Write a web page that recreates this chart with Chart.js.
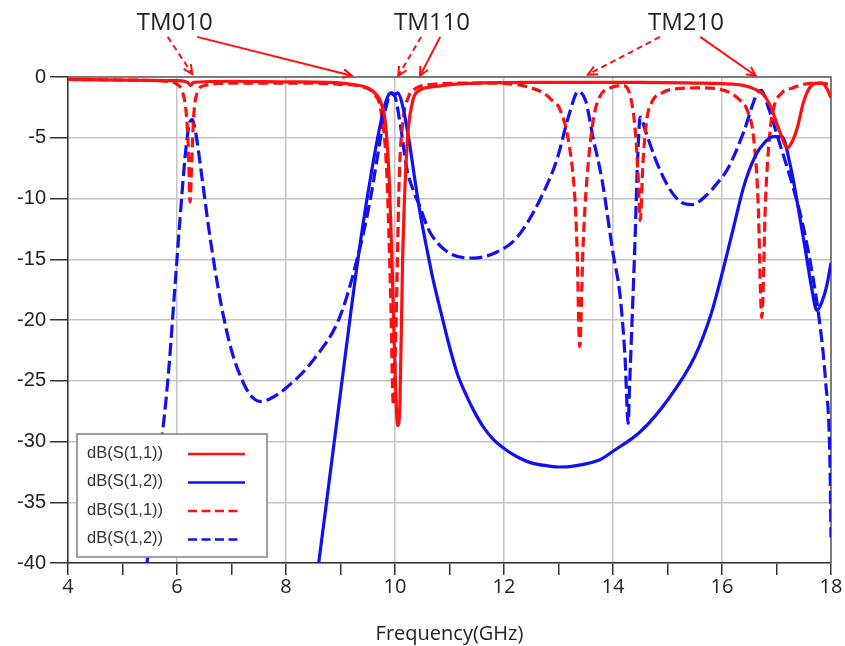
<!DOCTYPE html>
<html><head><meta charset="utf-8">
<script src="https://cdn.jsdelivr.net/npm/chart.js@4.4.1/dist/chart.umd.min.js"></script>
<style>html,body{margin:0;padding:0;background:#fff}</style>
</head><body>
<canvas id="c" width="845" height="646"></canvas>
<script>
// ---------- data (frequency in GHz, magnitude in dB) ----------
const seriesLabels = ['dB(S(1,1))', 'dB(S(1,2))', 'dB(S(1,1))', 'dB(S(1,2))'];
const xTickValues = [4, 6, 8, 10, 12, 14, 16, 18];
const yTickValues = [0, -5, -10, -15, -20, -25, -30, -35, -40];

// solid red: S11, structure A
const freqS11A = [4, 5, 6, 6.2, 6.25, 6.3, 7, 8, 8.8, 9.2, 9.5, 9.65, 9.75, 9.83, 9.9, 9.95, 10.0, 10.05, 10.09, 10.14, 10.22, 10.33, 10.45, 10.7, 11.5, 12.5, 13.5, 14.5, 15.5, 16.0, 16.4, 16.6, 16.75, 16.9, 17.06, 17.2, 17.3, 17.38, 17.5, 17.62, 17.75, 17.84, 17.93, 18];
const dbS11A   = [-0.2, -0.25, -0.3, -0.45, -0.7, -0.45, -0.35, -0.4, -0.45, -0.6, -0.9, -1.4, -2.2, -4, -9, -16, -24, -28.7, -27, -15, -5.7, -1.9, -1.1, -0.8, -0.5, -0.45, -0.45, -0.45, -0.5, -0.55, -0.7, -1.0, -1.4, -2.5, -4.5, -5.8, -5.2, -4.2, -2.0, -0.8, -0.5, -0.5, -1.0, -1.7];

// solid blue: S12, structure A
const freqS12A = [8.5, 8.6, 8.8, 9.0, 9.2, 9.4, 9.6, 9.75, 9.85, 9.92, 9.98, 10.05, 10.12, 10.25, 10.35, 10.46, 10.6, 10.7, 10.85, 11.0, 11.15, 11.32, 11.45, 11.62, 11.8, 12.04, 12.3, 12.53, 12.8, 13.03, 13.3, 13.76, 14.0, 14.5, 15.0, 15.5, 15.8, 16.0, 16.2, 16.4, 16.6, 16.8, 16.95, 17.1, 17.25, 17.4, 17.55, 17.65, 17.74, 17.85, 17.93, 18.0];
const dbS12A   = [-43, -40, -33, -26, -19, -12.5, -7, -3.5, -1.8, -1.3, -1.5, -1.3, -2, -5, -8, -11.2, -14.5, -16.7, -19.5, -22.2, -24.5, -26.3, -27.5, -28.8, -29.8, -30.7, -31.4, -31.8, -32, -32.1, -32, -31.5, -30.8, -29.2, -26.6, -23, -19.5, -16.2, -12.6, -9, -6.6, -5.3, -4.9, -4.9, -7.2, -10.8, -14.8, -17.5, -19.2, -18.3, -17, -15.3];

// dashed red: S11, structure B
const freqS11B = [4, 5, 5.8, 6.0, 6.1, 6.17, 6.21, 6.24, 6.27, 6.31, 6.38, 6.5, 7, 8, 9, 9.4, 9.6, 9.75, 9.85, 9.92, 9.97, 10.02, 10.08, 10.15, 10.25, 10.4, 10.7, 11.5, 12.2, 12.5, 12.72, 12.9, 13.03, 13.2, 13.3, 13.34, 13.39, 13.45, 13.52, 13.64, 13.76, 13.95, 14.18, 14.3, 14.4, 14.46, 14.5, 14.55, 14.62, 14.72, 14.9, 15.1, 15.6, 16.1, 16.35, 16.46, 16.58, 16.66, 16.73, 16.8, 16.87, 16.94, 17.1, 17.3, 17.5, 17.74, 18];
const dbS11B   = [-0.2, -0.25, -0.35, -0.6, -1.2, -3, -6, -10.3, -7, -3, -1.2, -0.7, -0.5, -0.5, -0.6, -0.8, -1.3, -3, -8, -18, -27, -20, -8, -3.5, -1.6, -0.9, -0.6, -0.5, -0.6, -0.9, -1.3, -2, -2.7, -5.7, -10, -14, -22.2, -14, -8.5, -3.5, -1.6, -0.9, -0.7, -1.3, -4, -8, -11.8, -7, -3.5, -2, -1.3, -1.0, -0.9, -1.2, -2, -2.7, -5, -10, -19.8, -10, -5, -2.7, -1.3, -0.9, -0.6, -0.5, -0.6];

// dashed blue: S12, structure B
const freqS12B = [5.3, 5.45, 5.6, 5.74, 5.85, 5.95, 6.05, 6.15, 6.22, 6.28, 6.34, 6.45, 6.6, 6.8, 7.0, 7.2, 7.35, 7.52, 7.7, 8.0, 8.5, 9.0, 9.36, 9.55, 9.72, 9.82, 9.93, 10.0, 10.1, 10.22, 10.35, 10.46, 10.59, 10.7, 11.0, 11.43, 11.87, 12.24, 12.66, 12.97, 13.2, 13.36, 13.5, 13.63, 13.8, 14.0, 14.13, 14.22, 14.28, 14.3, 14.35, 14.4, 14.45, 14.5, 14.6, 14.8, 15.05, 15.25, 15.45, 15.7, 15.9, 16.1, 16.4, 16.64, 16.72, 16.85, 17.06, 17.3, 17.49, 17.65, 17.8, 17.9, 17.98, 18.0];
const dbS12B   = [-45, -40, -33, -29, -24, -18, -12, -6.5, -4, -3.5, -4.5, -8, -13, -18.5, -22.5, -25, -26.2, -26.7, -26.5, -25.6, -23.3, -19.6, -14, -10, -5.4, -2.8, -1.3, -1.6, -4, -7.6, -9.5, -10.7, -12.3, -13.2, -14.5, -14.9, -14.4, -13.2, -10.1, -6.8, -3, -1.2, -2, -4.9, -8.5, -14.5, -18, -23, -28.5, -26, -20, -14, -7, -3.3, -4.5, -7, -9.3, -10.3, -10.5, -9.8, -8.8, -7.6, -4.5, -1.4, -1.1, -2.5, -5.5, -9, -12.3, -16, -20.5, -25, -31.5, -37.9];

// ---------- chart ----------
const zip = (xs, ys) => xs.map((x, i) => ({ x: x, y: ys[i] }));
const RED = '#ff0f0f', BLUE = '#1010f2';

const datasets = [
  { label: seriesLabels[0], data: zip(freqS11A, dbS11A), borderColor: RED, borderDash: [] },
  { label: seriesLabels[1], data: zip(freqS12A, dbS12A), borderColor: BLUE, borderDash: [] },
  { label: seriesLabels[2], data: zip(freqS11B, dbS11B), borderColor: RED, borderDash: [10, 5] },
  { label: seriesLabels[3], data: zip(freqS12B, dbS12B), borderColor: BLUE, borderDash: [13, 5] }
].map(d => Object.assign(d, { borderWidth: 3.2, pointRadius: 0, fill: false, cubicInterpolationMode: 'monotone' }));

// mode annotations (in data units: GHz / dB)
const modeNotes = [
  { text: 'TM010', f: 5.96, arrows: [ { f0: 5.83, f1: 6.28, d1: 0.25, dash: true }, { f0: 6.37, f1: 9.21, d1: 0.1, dash: false } ] },
  { text: 'TM110', f: 10.68, arrows: [ { f0: 10.48, f1: 10.06, d1: 0.1, dash: true }, { f0: 10.83, f1: 10.46, d1: 0.1, dash: false } ] },
  { text: 'TM210', f: 15.34, arrows: [ { f0: 14.86, f1: 13.54, d1: 0.2, dash: true }, { f0: 15.6, f1: 16.62, d1: 0.1, dash: false } ] }
];

const framePlugin = {
  id: 'frame',
  beforeDatasetsDraw(chart) {
    const { ctx, chartArea: a } = chart;
    ctx.save();
    ctx.strokeStyle = '#606060';
    ctx.lineWidth = 1.5;
    ctx.beginPath();
    ctx.moveTo(a.left, a.top); ctx.lineTo(a.right, a.top); ctx.lineTo(a.right, a.bottom);
    ctx.stroke();
    ctx.restore();
  }
};

const notesPlugin = {
  id: 'notes',
  afterDraw(chart) {
    const { ctx } = chart;
    const xs = chart.scales.x, ys = chart.scales.y;
    ctx.save();
    ctx.font = '24px "Open Sans", "Liberation Sans", sans-serif';
    ctx.fillStyle = '#222';
    ctx.textAlign = 'center';
    ctx.textBaseline = 'middle';
    modeNotes.forEach(n => {
      ctx.fillText(n.text, xs.getPixelForValue(n.f), ys.getPixelForValue(4.45));
      n.arrows.forEach(a => {
        const x0 = xs.getPixelForValue(a.f0), y0 = ys.getPixelForValue(3.3);
        const x1 = xs.getPixelForValue(a.f1), y1 = ys.getPixelForValue(a.d1);
        ctx.strokeStyle = RED;
        ctx.lineWidth = 2;
        ctx.setLineDash(a.dash ? [6, 4] : []);
        ctx.beginPath(); ctx.moveTo(x0, y0); ctx.lineTo(x1, y1); ctx.stroke();
        ctx.setLineDash([]);
        const ang = Math.atan2(y1 - y0, x1 - x0), L = 10, sp = 0.45;
        ctx.beginPath();
        ctx.moveTo(x1 - L * Math.cos(ang - sp), y1 - L * Math.sin(ang - sp));
        ctx.lineTo(x1, y1);
        ctx.lineTo(x1 - L * Math.cos(ang + sp), y1 - L * Math.sin(ang + sp));
        ctx.stroke();
      });
    });
    ctx.restore();
  }
};

const legendPlugin = {
  id: 'boxLegend',
  afterDatasetsDraw(chart) {
    const { ctx, chartArea: a } = chart;
    const left = a.left + 9, w = 190, h = 123, top = a.bottom - 6 - h;
    ctx.save();
    ctx.fillStyle = '#ffffff';
    ctx.fillRect(left, top, w, h);
    ctx.strokeStyle = '#808080';
    ctx.lineWidth = 1.5;
    ctx.strokeRect(left, top, w, h);
    ctx.font = '16.5px "Liberation Sans", Arial, sans-serif';
    ctx.fillStyle = '#333';
    ctx.textBaseline = 'middle';
    chart.data.datasets.forEach((d, i) => {
      const y = top + 19 + i * 28.5;
      ctx.fillText(d.label, left + 10, y);
      ctx.strokeStyle = d.borderColor;
      ctx.lineWidth = 2.5;
      ctx.setLineDash(d.borderDash.length ? [9, 4.5] : []);
      ctx.beginPath();
      ctx.moveTo(left + 111, y + 1);
      ctx.lineTo(left + (d.borderDash.length ? 164 : 168), y + 1);
      ctx.stroke();
      ctx.setLineDash([]);
    });
    ctx.restore();
  }
};

new Chart(document.getElementById('c'), {
  type: 'line',
  data: { datasets: datasets },
  options: {
    responsive: false,
    animation: false,
    parsing: true,
    layout: { padding: { top: 77, right: 14, left: 0, bottom: 0 } },
    plugins: { legend: { display: false }, tooltip: { enabled: false } },
    scales: {
      x: {
        type: 'linear', min: 4, max: 18,
        afterFit: s => { s.height = 83; },
        afterBuildTicks: s => { s.ticks = []; for (let v = 4; v <= 18; v++) s.ticks.push({ value: v }); },
        ticks: {
          callback: v => (xTickValues.includes(v) ? String(v) : ''),
          font: { family: '"Open Sans", sans-serif', size: 20 },
          color: '#222', padding: 0, maxRotation: 0, autoSkip: false
        },
        grid: {
          color: c => (c.tick && xTickValues.includes(c.tick.value) ? '#c4c4c4' : 'rgba(0,0,0,0)'),
          tickColor: '#333', lineWidth: 1.5, tickLength: 12
        },
        border: { color: '#333', width: 1.5 },
        title: {
          display: true, text: 'Frequency(GHz)', color: '#222',
          font: { family: '"Open Sans", sans-serif', size: 20 },
          padding: { top: 0, bottom: 0 }
        }
      },
      y: {
        min: -40, max: 0,
        afterFit: s => { s.width = 68; },
        afterBuildTicks: s => { s.ticks = yTickValues.map(v => ({ value: v })); },
        ticks: {
          font: { family: '"Liberation Sans", Arial, sans-serif', size: 20 },
          color: '#222', padding: 4
        },
        grid: { color: '#c4c4c4', tickColor: '#333', lineWidth: 1.5, tickLength: 18 },
        border: { color: '#333', width: 1.5 }
      }
    }
  },
  plugins: [framePlugin, legendPlugin, notesPlugin]
});
</script>
</body></html>
